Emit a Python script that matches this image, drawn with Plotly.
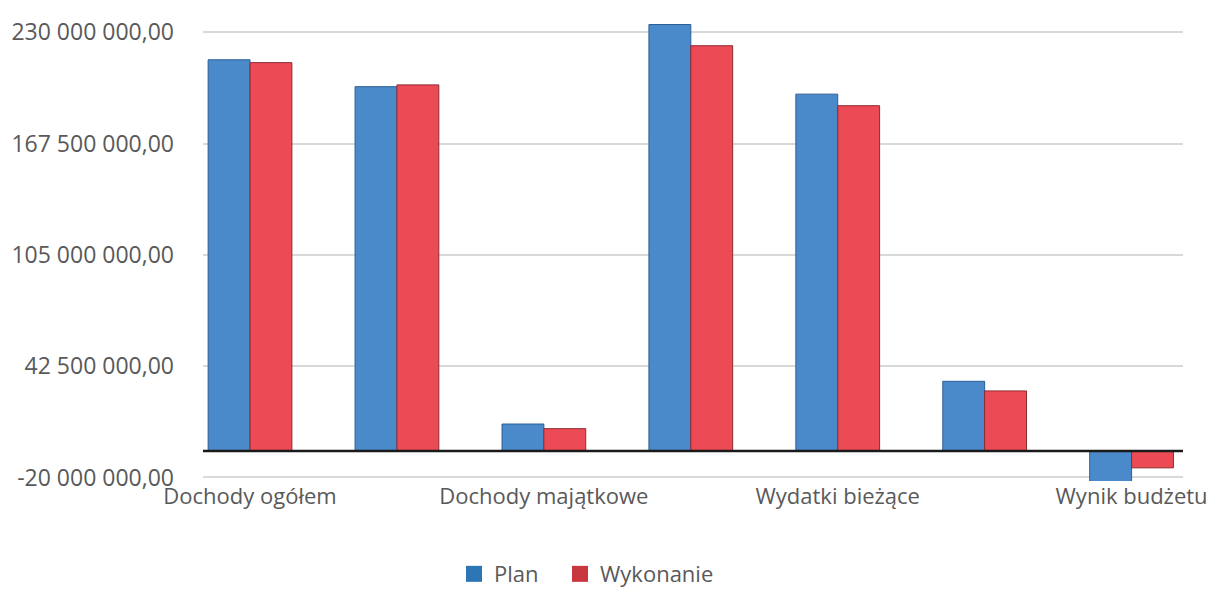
import plotly.graph_objects as go

categories = ["Dochody ogółem", "Dochody bieżące", "Dochody majątkowe", "Wydatki ogółem",
              "Wydatki bieżące", "Wydatki majątkowe", "Wynik budżetu"]
plan = [219.7e6, 204.6e6, 15.1e6, 239.5e6, 200.4e6, 39.1e6, -19.8e6]
wykonanie = [218.1e6, 205.6e6, 12.5e6, 227.6e6, 193.9e6, 33.7e6, -9.5e6]
tick_values = [-20e6, 42.5e6, 105e6, 167.5e6, 230e6]
tick_labels = ["-20 000 000,00", "42 500 000,00", "105 000 000,00", "167 500 000,00", "230 000 000,00"]
series_names = ["Plan", "Wykonanie"]
axis_cross = -5.1e6  # value at which the horizontal axis crosses (bars grow from here)

xs = list(range(len(categories)))
font = dict(family="Open Sans", size=22, color="#595959")
yfont = dict(family="Open Sans", size=23, color="#595959")
bar_colors = ["#4A8ACB", "#EC4B55"]
edge_colors = ["#2C5F94", "#8E2A30"]
legend_colors = ["#2E75B6", "#C9373F"]
legend_ids = ["legend", "legend2"]

fig = go.Figure()
for name, vals, c, ec in zip(series_names, [plan, wykonanie], bar_colors, edge_colors):
    fig.add_trace(go.Bar(x=xs, y=vals, base=axis_cross, name=name, showlegend=False,
                         marker=dict(color=c, line=dict(color=ec, width=1))))
# legend entries (square swatches like the original)
for name, lc, lg in zip(series_names, legend_colors, legend_ids):
    fig.add_trace(go.Scatter(x=[None], y=[None], mode="markers", name=name, legend=lg,
                             marker=dict(symbol="square", size=18, color=lc)))

fig.add_shape(type="line", xref="paper", x0=0, x1=1, yref="y", y0=axis_cross, y1=axis_cross,
              line=dict(color="#1A1A1A", width=2.5))

legend_common = dict(orientation="h", xanchor="left", y=-0.198, yanchor="middle",
                     font=font, itemwidth=30, bgcolor="rgba(0,0,0,0)")

fig.update_layout(
    width=1213, height=592,
    margin=dict(l=203, r=30, t=11, b=111, autoexpand=False),
    paper_bgcolor="white", plot_bgcolor="white",
    font=font,
    barmode="group", bargap=0.43, bargroupgap=0,
    showlegend=True,
    legend=dict(x=0.2561, **legend_common),
    legend2=dict(x=0.3643, **legend_common),
    xaxis=dict(range=[-0.32, 6.35], tickvals=xs[::2], ticktext=categories[::2],
               showgrid=False, zeroline=False, showline=False, ticks="", tickfont=font),
    yaxis=dict(range=[-22e6, 242e6], tickvals=tick_values, ticktext=tick_labels,
               showgrid=True, gridcolor="#D9D9D9", gridwidth=2, zeroline=False,
               showline=False, ticks="", tickfont=yfont, ticklabelstandoff=28),
)

fig.write_html("out.html", config={"displayModeBar": False},
               post_script="document.body.style.margin='0';document.body.style.overflow='hidden';")
